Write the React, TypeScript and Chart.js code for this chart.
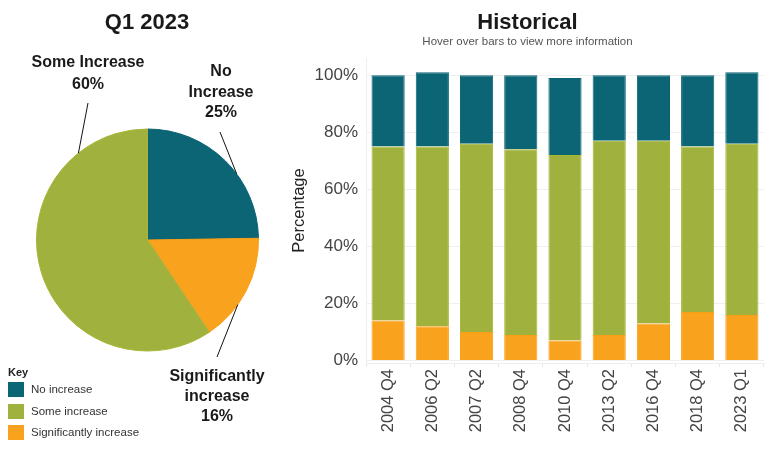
import React, { useEffect, useRef } from 'react';
import { Chart, registerables } from 'chart.js';

Chart.register(...registerables);

const FONT = '"Liberation Sans", Arial, Helvetica, sans-serif';

// ---- Historical (stacked bars) ----
const periods = ['2004 Q4', '2006 Q2', '2007 Q2', '2008 Q4', '2010 Q4', '2013 Q2', '2016 Q4', '2018 Q4', '2023 Q1'];
const significantlyIncrease = [14, 12, 10, 9, 7, 9, 13, 17, 16];
const someIncrease = [61, 63, 66, 65, 65, 68, 64, 58, 60];
const noIncrease = [25, 26, 24, 26, 27, 23, 23, 25, 25];
const percentTicks = [0, 20, 40, 60, 80, 100];

// ---- Q1 2023 (pie, clockwise from top) ----
const pieCategories = ['No Increase', 'Significantly increase', 'Some Increase'];
const pieValues = [25, 16, 60];
const pieLabelLines = [['No', 'Increase'], ['Significantly', 'increase'], ['Some Increase']];

// ---- Key ----
const keyLabels = ['No increase', 'Some increase', 'Significantly increase'];

const TEAL = '#0c6575';
const GREEN = '#a1b13e';
const ORANGE = '#f8a21d';
const keyColors = [TEAL, GREEN, ORANGE];
const pieColors = [TEAL, ORANGE, GREEN];
const pieBorders = ['#0c6373', '#f99f14', '#a8b536'];

// callout placement (fraction along slice arc, line end / text offset from pie centre)
const calloutLayout = [
  { frac: 0.6, end: [72.5, -108], text: [73.5, -168], lh: 20.5 },
  { frac: 0.64, end: [69.5, 117], text: [69.5, 137], lh: 20 },
  { frac: 0.82, end: [-59.5, -137], text: [-59.5, -177], lh: 21.5 },
];

const calloutPlugin = {
  id: 'callouts',
  afterDatasetsDraw(chart: any) {
    const ctx = chart.ctx;
    const meta = chart.getDatasetMeta(0);
    meta.data.forEach((arc: any, i: number) => {
      const p = arc.getProps(['x', 'y', 'startAngle', 'endAngle', 'outerRadius'], true);
      const L = calloutLayout[i];
      const a = p.startAngle + L.frac * (p.endAngle - p.startAngle);
      ctx.save();
      ctx.strokeStyle = '#111';
      ctx.lineWidth = 1;
      ctx.beginPath();
      ctx.moveTo(p.x + Math.cos(a) * p.outerRadius, p.y + Math.sin(a) * p.outerRadius);
      ctx.lineTo(p.x + L.end[0], p.y + L.end[1]);
      ctx.stroke();
      ctx.fillStyle = '#1a1a1a';
      ctx.font = `bold 16px ${FONT}`;
      ctx.textAlign = 'center';
      ctx.textBaseline = 'middle';
      const lines = [...pieLabelLines[i], `${pieValues[i]}%`];
      lines.forEach((t, k) => ctx.fillText(t, p.x + L.text[0], p.y + L.text[1] + k * L.lh));
      ctx.restore();
    });
  },
};

export default function App() {
  const pieRef = useRef<HTMLCanvasElement>(null);
  const barRef = useRef<HTMLCanvasElement>(null);

  useEffect(() => {
    document.body.style.margin = '0';
    Chart.defaults.font.family = FONT;

    const pie = new Chart(pieRef.current!, {
      type: 'pie',
      data: {
        labels: pieCategories,
        datasets: [
          {
            data: pieValues,
            backgroundColor: pieColors,
            borderColor: pieBorders,
            borderWidth: 1,
            hoverOffset: 0,
            offset: 0,
          } as any,
        ],
      },
      options: {
        animation: false,
        responsive: false,
        maintainAspectRatio: false,
        layout: { padding: { left: 36, right: 21, top: 128.5, bottom: 98.5 } },
        plugins: { legend: { display: false }, title: { display: false }, tooltip: { enabled: true } },
      },
      plugins: [calloutPlugin],
    });

    const bar = new Chart(barRef.current!, {
      type: 'bar',
      data: {
        labels: periods,
        datasets: [
          { label: 'Significantly increase', data: significantlyIncrease, backgroundColor: ORANGE, borderColor: '#fa9f14', borderWidth: 1 },
          { label: 'Some increase', data: someIncrease, backgroundColor: GREEN, borderColor: '#a6b735', borderWidth: 1 },
          { label: 'No increase', data: noIncrease, backgroundColor: TEAL, borderColor: '#0c6373', borderWidth: 1 },
        ],
      },
      options: {
        animation: false,
        responsive: false,
        maintainAspectRatio: false,
        layout: { padding: { top: 58, right: 12, left: 0, bottom: 0 } },
        datasets: { bar: { categoryPercentage: 1, barPercentage: 0.75 } },
        plugins: { legend: { display: false }, title: { display: false } },
        scales: {
          x: {
            stacked: true,
            grid: { display: true, drawOnChartArea: false, drawTicks: true, tickLength: 4, color: '#e6e6e6', offset: true },
            border: { display: true, color: '#eeeeee' },
            ticks: { minRotation: 90, maxRotation: 90, autoSkip: false, padding: 2, color: '#444', font: { size: 16.5, family: FONT } },
            afterFit: (s: any) => { s.height = 87; },
          },
          y: {
            stacked: true,
            min: -0.85,
            max: 106,
            afterBuildTicks: (s: any) => { s.ticks = percentTicks.map((v) => ({ value: v })); },
            ticks: { callback: (v: any) => `${v}%`, padding: 8, color: '#444', font: { size: 17, family: FONT } },
            grid: { color: '#f0f0f0', drawTicks: false },
            border: { display: true, color: '#eeeeee' },
            title: { display: true, text: 'Percentage', color: '#222', font: { size: 16.5, family: FONT }, padding: { top: 10, bottom: 0 } },
            afterFit: (s: any) => { s.width = 86; },
          },
        },
      } as any,
    });

    return () => {
      pie.destroy();
      bar.destroy();
    };
  }, []);

  return (
    <div style={{ position: 'absolute', left: 0, top: 0, width: 776, height: 450, background: '#fff', fontFamily: FONT, overflow: 'hidden' }}>
      <canvas ref={pieRef} width={280} height={450} style={{ position: 'absolute', left: 0, top: 0, width: 280, height: 450 }} />
      <canvas ref={barRef} width={496} height={450} style={{ position: 'absolute', left: 280, top: 0, width: 496, height: 450 }} />
      <div style={{ position: 'absolute', left: 0, top: 10, width: 294, textAlign: 'center', fontSize: 22, fontWeight: 'bold', lineHeight: '24px', color: '#1a1a1a' }}>Q1 2023</div>
      <div style={{ position: 'absolute', left: 380, top: 10, width: 295, textAlign: 'center', fontSize: 22, fontWeight: 'bold', lineHeight: '24px', color: '#1a1a1a' }}>Historical</div>
      <div style={{ position: 'absolute', left: 380, top: 34, width: 295, textAlign: 'center', fontSize: 11.5, lineHeight: '14px', color: '#555' }}>Hover over bars to view more information</div>
      <div style={{ position: 'absolute', left: 8, top: 365, fontSize: 11, fontWeight: 'bold', lineHeight: '14px', color: '#222' }}>Key</div>
      {keyLabels.map((lab, i) => (
        <div key={lab} style={{ position: 'absolute', left: 8, top: 382 + i * 21.5, height: 15, display: 'flex', alignItems: 'center' }}>
          <div style={{ width: 16, height: 15, background: keyColors[i] }} />
          <div style={{ marginLeft: 7, fontSize: 11.5, color: '#333', lineHeight: '15px', whiteSpace: 'nowrap' }}>{lab}</div>
        </div>
      ))}
    </div>
  );
}
